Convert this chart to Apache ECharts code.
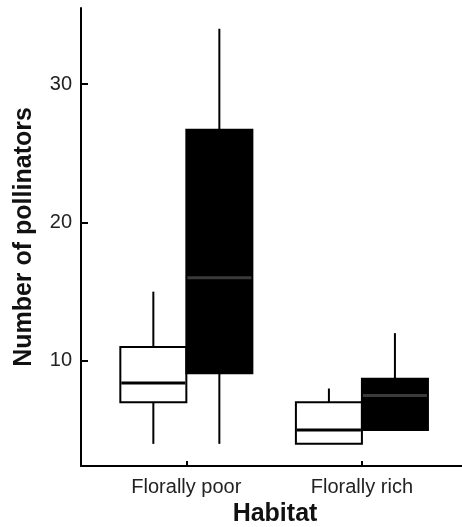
<!DOCTYPE html>
<html>
<head>
<meta charset="utf-8">
<script src="https://cdn.jsdelivr.net/npm/echarts@6/dist/echarts.min.js"></script>
<style>
html,body{margin:0;padding:0;background:#fff;}
#chart{width:462px;height:527px;}
</style>
</head>
<body>
<div id="chart"></div>
<script>
// Data (min, Q1, median, Q3, max)
const categories = ['Florally poor', 'Florally rich'];
const whiteBoxes = [[4, 7, 8.4, 11, 15], [4, 4, 5, 7, 8]];
const blackBoxes = [[4, 9.1, 16, 26.7, 34], [5, 5, 7.5, 8.7, 12]];
const yTicks = [10, 20, 30];
const xTitle = 'Habitat';
const yTitle = 'Number of pollinators';

const BOX_W = 0.376;
const FONT = '"Liberation Sans", Arial, Helvetica, sans-serif';

function buildData(boxes, side) {
  return boxes.map((b, i) => [i + 1].concat(b).concat([side]));
}

function renderBox(params, api) {
  const x = api.value(0);
  const side = api.value(6);
  const x0 = side < 0 ? x - BOX_W : x;
  const x1 = side < 0 ? x : x + BOX_W;
  const xc = (x0 + x1) / 2;
  const pMin = api.coord([xc, api.value(1)]);
  const pQ1 = api.coord([x0, api.value(2)]);
  const pMed0 = api.coord([x0, api.value(3)]);
  const pMed1 = api.coord([x1, api.value(3)]);
  const pQ3 = api.coord([x1, api.value(4)]);
  const pMax = api.coord([xc, api.value(5)]);
  const q1 = api.coord([xc, api.value(2)]);
  const q3 = api.coord([xc, api.value(4)]);
  const isBlack = side > 0;
  const children = [];
  if (Math.abs(pMin[1] - q1[1]) > 0.5) {
    children.push({type: 'line', shape: {x1: pMin[0], y1: pMin[1], x2: q1[0], y2: q1[1]}, style: {stroke: '#000', lineWidth: 2}});
  }
  if (Math.abs(pMax[1] - q3[1]) > 0.5) {
    children.push({type: 'line', shape: {x1: pMax[0], y1: pMax[1], x2: q3[0], y2: q3[1]}, style: {stroke: '#000', lineWidth: 2}});
  }
  children.push({
    type: 'rect',
    shape: {x: pQ1[0], y: pQ3[1], width: pQ3[0] - pQ1[0], height: pQ1[1] - pQ3[1]},
    style: {fill: isBlack ? '#000' : '#fff', stroke: '#000', lineWidth: 2}
  });
  children.push({
    type: 'line',
    shape: {x1: pMed0[0] + 1, y1: pMed0[1], x2: pMed1[0] - 1, y2: pMed1[1]},
    style: {stroke: isBlack ? '#3a3a3a' : '#000', lineWidth: 3}
  });
  return {type: 'group', children: children};
}

const chart = echarts.init(document.getElementById('chart'), null, {renderer: 'canvas'});
chart.setOption({
  animation: false,
  backgroundColor: '#fff',
  grid: {left: 81, right: 0, top: 8, bottom: 61, containLabel: false, outerBoundsMode: 'none'},
  xAxis: {
    type: 'value',
    min: 0.4,
    max: 2.57,
    name: xTitle,
    nameLocation: 'middle',
    nameGap: 34,
    nameTextStyle: {fontFamily: FONT, fontSize: 25, fontWeight: 'bold', color: '#111', padding: [0, 0, 0, 7]},
    splitLine: {show: false},
    axisLine: {show: true, onZero: false, lineStyle: {color: '#000', width: 2}},
    axisTick: {show: true, inside: true, length: 5, customValues: [1, 2], lineStyle: {color: '#000', width: 2}},
    axisLabel: {
      show: true, margin: 11, customValues: [1, 2],
      fontFamily: FONT, fontSize: 20, color: '#222',
      formatter: v => categories[Math.round(v) - 1] || ''
    }
  },
  yAxis: {
    type: 'value',
    min: 2.4,
    max: 35.5,
    name: yTitle,
    nameLocation: 'middle',
    nameGap: 44,
    nameTextStyle: {fontFamily: FONT, fontSize: 25, fontWeight: 'bold', color: '#111'},
    splitLine: {show: false},
    axisLine: {show: true, onZero: false, lineStyle: {color: '#000', width: 2}},
    axisTick: {show: true, inside: true, length: 7, customValues: yTicks, lineStyle: {color: '#000', width: 2}},
    axisLabel: {show: true, margin: 9, customValues: yTicks, fontFamily: FONT, fontSize: 20, color: '#222'}
  },
  series: [
    {type: 'custom', renderItem: renderBox, data: buildData(whiteBoxes, -1), clip: false},
    {type: 'custom', renderItem: renderBox, data: buildData(blackBoxes, 1), clip: false}
  ]
});
</script>
</body>
</html>
